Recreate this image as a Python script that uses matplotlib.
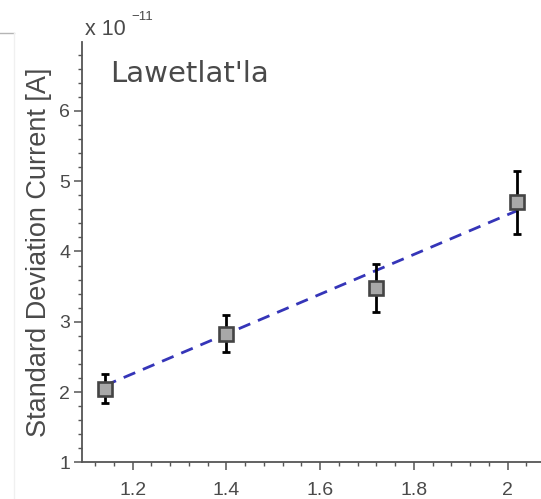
import matplotlib
matplotlib.use("Agg")
import matplotlib.pyplot as plt
from matplotlib.ticker import MultipleLocator, FixedLocator, FuncFormatter
from matplotlib.lines import Line2D

# Measured standard deviation of current (units of 1e-11 A)
x_vals = [1.14, 1.40, 1.72, 2.02]
y_vals = [2.05, 2.83, 3.48, 4.70]
y_err = [0.21, 0.26, 0.34, 0.45]

# Linear trend drawn across the measured range
fit_x = [1.14, 2.02]
fit_y = [2.09, 4.58]

x_ticks = [1.2, 1.4, 1.6, 1.8, 2.0]
y_ticks = [1, 2, 3, 4, 5, 6]

site_name = "Lawetlat'la"
y_label = "Standard Deviation Current [A]"

text_gray = "#4a4a4a"
spine_gray = "#555555"

fig = plt.figure(figsize=(5.41, 4.99), dpi=100)
ax = fig.add_axes([82 / 541, 36.7 / 499, 1 - 82 / 541, 420.3 / 499])

ax.plot(fit_x, fit_y, color="#3535b8", lw=2.0, dashes=(4.5, 3.0), zorder=2)
ax.errorbar(x_vals, y_vals, yerr=y_err, fmt="none", ecolor="black",
            elinewidth=2.0, capsize=3.2, capthick=2.0, zorder=3)
ax.plot(x_vals, y_vals, ls="none", marker="s", markersize=9.5,
        markerfacecolor="#a8a8a8", markeredgecolor="#444444",
        markeredgewidth=1.9, zorder=4)

ax.set_xlim(1.092, 2.071)
ax.set_ylim(1, 6.98)

ax.xaxis.set_major_locator(FixedLocator(x_ticks))
ax.xaxis.set_minor_locator(MultipleLocator(0.04))
ax.yaxis.set_major_locator(FixedLocator(y_ticks))
ax.yaxis.set_minor_locator(MultipleLocator(0.2))
ax.xaxis.set_major_formatter(FuncFormatter(lambda v, p: f"{v:g}"))
ax.yaxis.set_major_formatter(FuncFormatter(lambda v, p: f"{v:g}"))

for side in ("top", "right"):
    ax.spines[side].set_visible(False)
for side in ("left", "bottom"):
    ax.spines[side].set_color(spine_gray)
    ax.spines[side].set_linewidth(1.3)

ax.tick_params(which="major", direction="out", length=5.5, width=1.1,
               color=spine_gray, labelcolor=text_gray, labelsize=14,
               labelfontfamily="Liberation Sans")
ax.tick_params(which="minor", direction="out", length=3, width=1.0,
               color=spine_gray)
ax.tick_params(axis="x", which="major", pad=9)
ax.tick_params(axis="y", which="major", pad=3)

ax.set_ylabel(y_label, fontsize=19.5, color=text_gray,
              family="Liberation Sans", labelpad=5)

ax.text(0.061, 0.905, site_name, transform=ax.transAxes, fontsize=21,
        color=text_gray, family="DejaVu Sans", ha="left", va="baseline")

# Exponent label for the y axis
fig.text(85 / 541, 1 - 35 / 499, "x 10", fontsize=15.5, color=text_gray,
         family="Liberation Sans", ha="left", va="baseline")
fig.text(131 / 541, 1 - 20.5 / 499, "\u221211", fontsize=9.5, color=text_gray,
         family="Liberation Sans", ha="left", va="baseline")

# Panel frame edge at the left
fig.add_artist(Line2D([0, 14 / 541], [1 - 33 / 499] * 2, color="#b5b5b5",
                      lw=1.0, transform=fig.transFigure))
fig.add_artist(Line2D([14 / 541] * 2, [0, 1 - 33 / 499], color="#f0f0f0",
                      lw=1.0, transform=fig.transFigure))

fig.savefig("out.png", dpi=100)
